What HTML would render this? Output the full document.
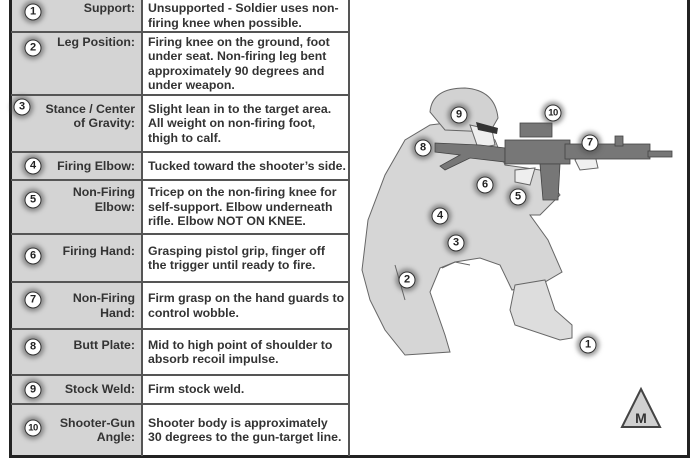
<!DOCTYPE html>
<html><head><meta charset="utf-8"><style>
body{margin:0;width:700px;height:470px;background:#fff;position:relative;overflow:hidden;font-family:"Liberation Sans",Arial,sans-serif;}
.abs{position:absolute}
.hl{position:absolute;left:11px;width:338px;height:2px;background:#555}
.row{position:absolute;left:11px;width:338px;display:flex;align-items:center}
.in{display:flex;align-items:flex-start;width:100%}
.lab{width:126px;text-align:right;font-weight:bold;font-size:12.3px;line-height:14.5px;color:#333;padding-right:4px;box-sizing:border-box;margin-left:2px}
.txt{margin-left:9px;font-weight:bold;font-size:12.3px;line-height:14.5px;color:#333;white-space:nowrap}
.c{position:absolute;width:15px;height:15px;border-radius:50%;background:#fff;border:1.6px solid #333;box-shadow:0 0 4px 3px rgba(80,80,80,.55);font:bold 11px/15px "Liberation Sans",Arial,sans-serif;text-align:center;color:#222;transform:translate(-50%,-50%)}
.c.s{font-size:9.5px;letter-spacing:-.5px}
</style></head><body>
<div class="abs" style="left:11px;top:0;width:131px;height:456px;background:#d4d4d4"></div>
<div class="abs" style="left:9px;top:0;width:3px;height:458px;background:#222"></div>
<div class="abs" style="left:9px;top:455px;width:681px;height:3px;background:#222"></div>
<div class="abs" style="left:687px;top:0;width:3px;height:458px;background:#222"></div>
<div class="abs" style="left:141px;top:0;width:2px;height:456px;background:#555"></div>
<div class="abs" style="left:348px;top:0;width:2px;height:456px;background:#555"></div>
<div class="hl" style="top:31px"></div><div class="hl" style="top:94px"></div><div class="hl" style="top:151px"></div><div class="hl" style="top:179px"></div><div class="hl" style="top:233px"></div><div class="hl" style="top:281px"></div><div class="hl" style="top:328px"></div><div class="hl" style="top:374px"></div><div class="hl" style="top:403px"></div>

<div class="row" style="top:0;height:31px"><div class="in"><div class="lab">Support:</div><div class="txt">Unsupported - Soldier uses non-<br>firing knee when possible.</div></div></div>
<div class="row" style="top:33px;height:61px"><div class="in"><div class="lab">Leg Position:</div><div class="txt">Firing knee on the ground, foot<br>under seat. Non-firing leg bent<br>approximately 90 degrees and<br>under weapon.</div></div></div>
<div class="row" style="top:96px;height:55px"><div class="in"><div class="lab">Stance / Center<br>of Gravity:</div><div class="txt">Slight lean in to the target area.<br>All weight on non-firing foot,<br>thigh to calf.</div></div></div>
<div class="row" style="top:153px;height:26px"><div class="in"><div class="lab">Firing Elbow:</div><div class="txt">Tucked toward the shooter’s side.</div></div></div>
<div class="row" style="top:181px;height:52px"><div class="in"><div class="lab">Non-Firing<br>Elbow:</div><div class="txt">Tricep on the non-firing knee for<br>self-support. Elbow underneath<br>rifle. Elbow NOT ON KNEE.</div></div></div>
<div class="row" style="top:235px;height:46px"><div class="in"><div class="lab">Firing Hand:</div><div class="txt">Grasping pistol grip, finger off<br>the trigger until ready to fire.</div></div></div>
<div class="row" style="top:283px;height:45px"><div class="in"><div class="lab">Non-Firing<br>Hand:</div><div class="txt">Firm grasp on the hand guards to<br>control wobble.</div></div></div>
<div class="row" style="top:330px;height:44px"><div class="in"><div class="lab">Butt Plate:</div><div class="txt">Mid to high point of shoulder to<br>absorb recoil impulse.</div></div></div>
<div class="row" style="top:376px;height:27px"><div class="in"><div class="lab">Stock Weld:</div><div class="txt">Firm stock weld.</div></div></div>
<div class="row" style="top:405px;height:50px"><div class="in"><div class="lab">Shooter-Gun<br>Angle:</div><div class="txt">Shooter body is approximately<br>30 degrees to the gun-target line.</div></div></div>

<div class="c" style="left:33px;top:12px">1</div>
<div class="c" style="left:33px;top:48px">2</div>
<div class="c" style="left:22px;top:107px">3</div>
<div class="c" style="left:33px;top:166px">4</div>
<div class="c" style="left:33px;top:200px">5</div>
<div class="c" style="left:33px;top:256px">6</div>
<div class="c" style="left:33px;top:300px">7</div>
<div class="c" style="left:33px;top:347px">8</div>
<div class="c" style="left:33px;top:390px">9</div>
<div class="c s" style="left:33px;top:428px">10</div>

<svg class="abs" style="left:0;top:0" width="700" height="470">
<g stroke="#666" stroke-width="1" fill="#d6d6d6">
<path d="M430,125 L470,120 L495,140 L505,165 L540,170 L560,195 L540,215 L530,215 L548,240 L562,272 L545,282 L512,290 L500,265 L480,258 L455,262 L440,268 L430,292 L445,335 L450,352 L405,355 L385,330 L370,300 L362,270 L368,220 L385,175 L405,140 Z"/>
<path d="M515,285 L545,280 L555,310 L572,325 L572,338 L560,340 L515,325 L510,310 Z" fill="#ddd"/>
<path d="M430,112 Q432,88 465,88 Q495,90 498,118 L490,132 L445,130 Z" fill="#d2d2d2"/>
<path d="M470,125 L492,130 L495,145 L478,148 Z" fill="#eee"/>
<path d="M575,160 Q585,148 595,155 L598,168 L580,170 Z" fill="#f0f0f0"/>
<path d="M515,170 L535,168 L530,185 L515,182 Z" fill="#eee"/>
<path d="M442,268 L455,262 L470,265" fill="none"/>
<path d="M395,265 L405,300" fill="none"/>
</g>
<path d="M476,122 L498,128 L497,134 L478,130 Z" fill="#333"/>
<g fill="#777" stroke="#444" stroke-width="0.8">
<path d="M435,143 L480,145 L505,148 L505,162 L470,158 L445,170 L440,166 L460,155 L435,152 Z"/>
<rect x="505" y="140" width="65" height="24"/>
<rect x="565" y="144" width="85" height="15"/>
<rect x="615" y="136" width="8" height="10"/>
<rect x="648" y="151" width="24" height="6"/>
<rect x="520" y="123" width="32" height="14"/>
<path d="M540,164 L560,164 L558,200 L543,200 Z"/>
</g>
<path d="M641,389 L660,427 L622,427 Z" fill="#d0d0d0" stroke="#444" stroke-width="2"/>
<text x="641" y="423" font-family="Liberation Sans,Arial,sans-serif" font-weight="bold" font-size="14" text-anchor="middle" fill="#333">M</text>
</svg>
<div class="c" style="left:459px;top:115px">9</div>
<div class="c s" style="left:553px;top:113px">10</div>
<div class="c" style="left:423px;top:148px">8</div>
<div class="c" style="left:590px;top:143px">7</div>
<div class="c" style="left:485px;top:185px">6</div>
<div class="c" style="left:518px;top:197px">5</div>
<div class="c" style="left:440px;top:216px">4</div>
<div class="c" style="left:456px;top:243px">3</div>
<div class="c" style="left:407px;top:280px">2</div>
<div class="c" style="left:588px;top:345px">1</div>
</body></html>
